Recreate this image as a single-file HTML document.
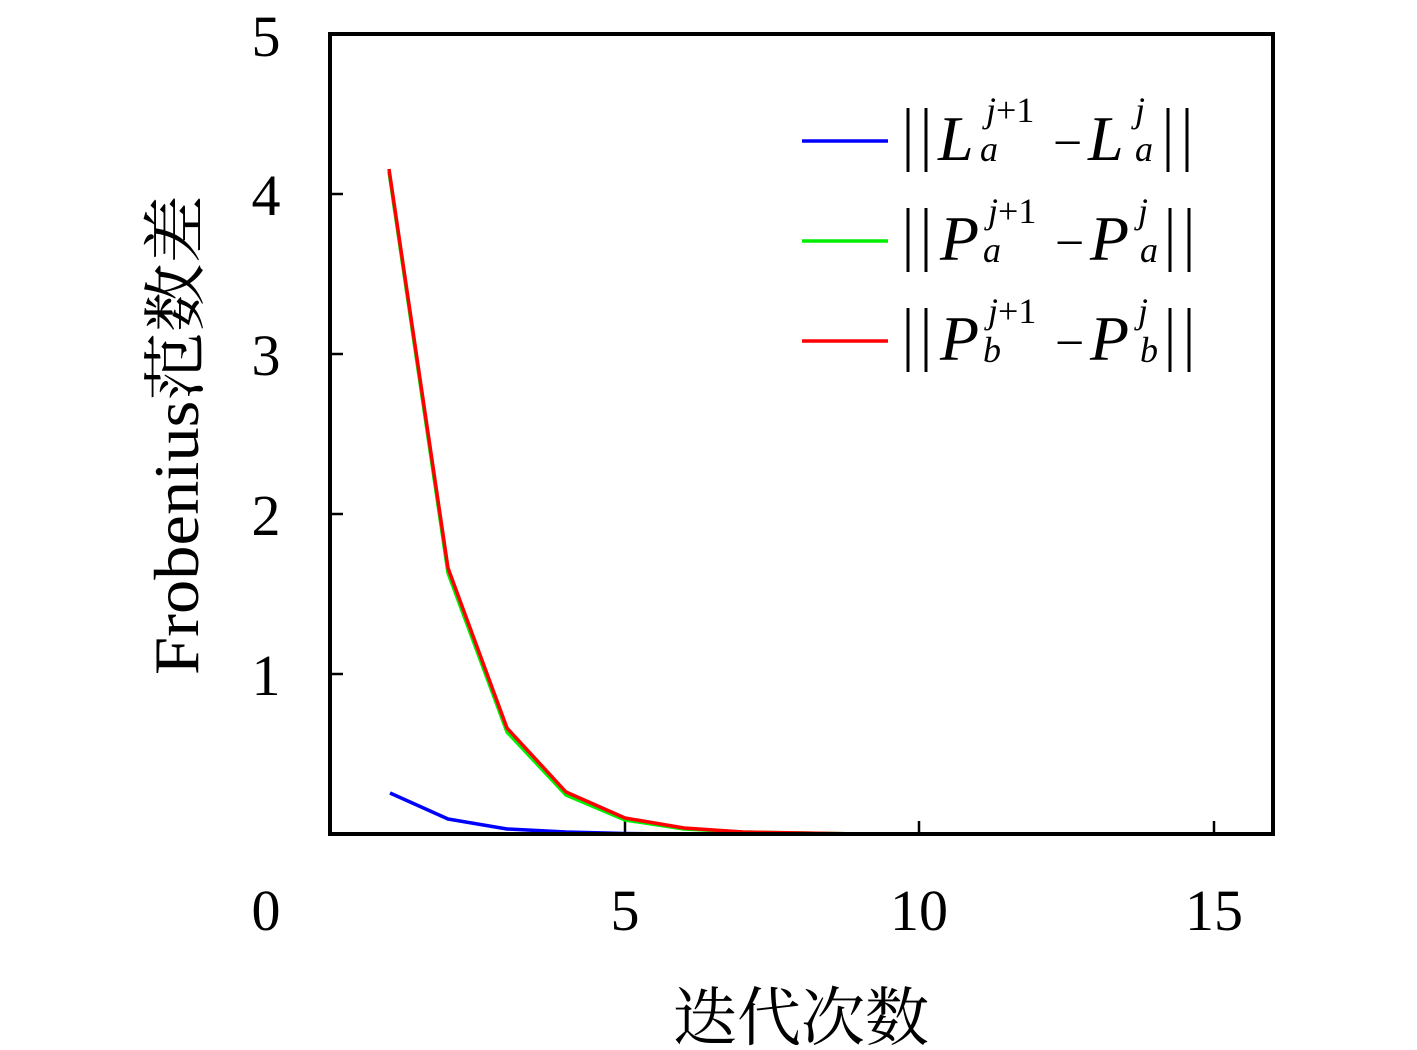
<!DOCTYPE html>
<html><head><meta charset="utf-8"><style>
html,body{margin:0;padding:0;background:#fff;}
svg{display:block;}
text{font-family:"Liberation Serif","Noto Serif CJK SC",serif;fill:#000;}
</style></head><body>
<svg width="1417" height="1050" viewBox="0 0 1417 1050" xmlns="http://www.w3.org/2000/svg">
<rect x="0" y="0" width="1417" height="1050" fill="#fff"/>
<g stroke="#000" stroke-width="2.5">
<line x1="625" y1="834" x2="625" y2="821"/>
<line x1="919" y1="834" x2="919" y2="821"/>
<line x1="1214" y1="834" x2="1214" y2="821"/>
<line x1="330" y1="194" x2="343" y2="194"/>
<line x1="330" y1="354" x2="343" y2="354"/>
<line x1="330" y1="514" x2="343" y2="514"/>
<line x1="330" y1="674" x2="343" y2="674"/>
</g>
<g fill="none" stroke-width="3.5" stroke-linejoin="round">
<polyline stroke="#0000ff" points="390,793 448,819 507,829 566,832 625,833.5 684,834 743,834 802,834 861,834 919,834"/>
<polyline stroke="#00ee00" points="389,172 448,573 507,732 566,795 625,820 684,829 743,832 802,833 861,834 919,834"/>
<polyline stroke="#ff0000" points="389,169 448,568 507,728 566,792 625,818 684,828 743,832 802,833 861,834 919,834"/>
</g>
<rect x="330" y="34" width="943" height="800" fill="none" stroke="#000" stroke-width="4"/>
<g font-size="58" text-anchor="middle">
<text x="266" y="56">5</text>
<text x="266" y="215">4</text>
<text x="266" y="375">3</text>
<text x="266" y="535">2</text>
<text x="266" y="695">1</text>
<text x="266" y="930">0</text>
<text x="625" y="930">5</text>
<text x="919" y="930">10</text>
<text x="1214" y="930">15</text>
</g>
<text x="801" y="1040" font-size="64" text-anchor="middle" font-family="Noto Serif CJK SC,serif">迭代次数</text>
<text transform="translate(198,435) rotate(-90)" font-size="64" text-anchor="middle" textLength="480" lengthAdjust="spacingAndGlyphs">Frobenius<tspan font-family="Noto Serif CJK SC,serif">范数差</tspan></text>
<g stroke-width="3.5">
<line x1="802" y1="141" x2="888" y2="141" stroke="#0000ff"/>
<line x1="802" y1="241" x2="888" y2="241" stroke="#00ee00"/>
<line x1="802" y1="341" x2="888" y2="341" stroke="#ff0000"/>
</g>
<g stroke="#000" stroke-width="3">
<line x1="908" y1="108" x2="908" y2="172"/><line x1="926" y1="108" x2="926" y2="172"/>
<line x1="1168" y1="108" x2="1168" y2="172"/><line x1="1187" y1="108" x2="1187" y2="172"/>
<line x1="908" y1="208" x2="908" y2="272"/><line x1="926" y1="208" x2="926" y2="272"/>
<line x1="1170" y1="208" x2="1170" y2="272"/><line x1="1189" y1="208" x2="1189" y2="272"/>
<line x1="908" y1="308" x2="908" y2="372"/><line x1="926" y1="308" x2="926" y2="372"/>
<line x1="1170" y1="308" x2="1170" y2="372"/><line x1="1189" y1="308" x2="1189" y2="372"/>
</g>
<g font-style="italic">
<text x="938" y="160" font-size="64">L</text>
<text x="980" y="161" font-size="36">a</text>
<text x="986" y="122" font-size="36">j<tspan font-style="normal">+1</tspan></text>
<text x="1053" y="160" font-size="52" font-style="normal">−</text>
<text x="1088" y="160" font-size="64">L</text>
<text x="1135" y="161" font-size="36">a</text>
<text x="1135" y="122" font-size="36">j</text>

<text x="940" y="260" font-size="64">P</text>
<text x="983" y="262" font-size="36">a</text>
<text x="988" y="223" font-size="36">j<tspan font-style="normal">+1</tspan></text>
<text x="1055" y="260" font-size="52" font-style="normal">−</text>
<text x="1090" y="260" font-size="64">P</text>
<text x="1140" y="262" font-size="36">a</text>
<text x="1138" y="223" font-size="36">j</text>

<text x="940" y="360" font-size="64">P</text>
<text x="983" y="362" font-size="36">b</text>
<text x="988" y="323" font-size="36">j<tspan font-style="normal">+1</tspan></text>
<text x="1055" y="360" font-size="52" font-style="normal">−</text>
<text x="1090" y="360" font-size="64">P</text>
<text x="1140" y="362" font-size="36">b</text>
<text x="1138" y="323" font-size="36">j</text>
</g>
</svg>
</body></html>
